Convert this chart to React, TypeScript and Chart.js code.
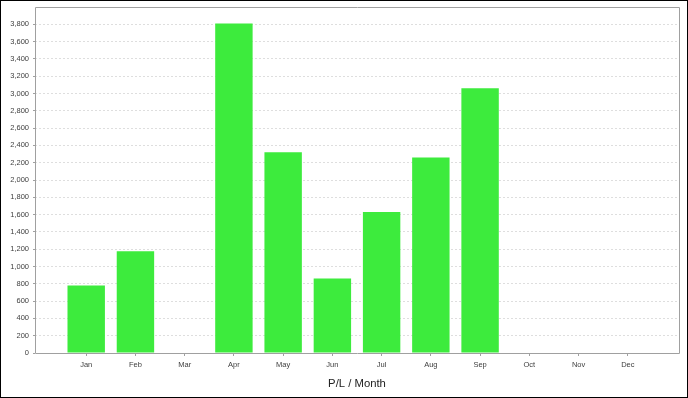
import React, { useEffect, useRef } from "react";
import Chart from "chart.js/auto";

const months = ["Jan", "Feb", "Mar", "Apr", "May", "Jun", "Jul", "Aug", "Sep", "Oct", "Nov", "Dec"];
const plValues = [780, 1175, 0, 3810, 2320, 860, 1630, 2260, 3060, 0, 0, 0];
const yMax = 4000;
const yStep = 200;
const axisTitle = "P/L / Month";

const frameColor = "#a0a0a0";
const fontFamily = "'Liberation Sans', Arial, sans-serif";

const plotFrame = {
  id: "plotFrame",
  afterDatasetsDraw(chart: any) {
    const { ctx, chartArea } = chart;
    const l = Math.round(chartArea.left) + 0.5;
    const t = Math.round(chartArea.top) + 0.5;
    const r = Math.round(chartArea.right) + 0.5;
    const b = Math.round(chartArea.bottom) + 0.5;
    ctx.save();
    ctx.strokeStyle = frameColor;
    ctx.lineWidth = 1;
    ctx.setLineDash([]);
    ctx.beginPath();
    ctx.moveTo(l, b);
    ctx.lineTo(l, t);
    ctx.lineTo(r, t);
    ctx.lineTo(r, b);
    ctx.lineTo(l, b);
    ctx.stroke();
    ctx.restore();
  },
};

export default function App() {
  const ref = useRef<HTMLCanvasElement>(null);
  useEffect(() => {
    if (!ref.current) return;
    const chart = new Chart(ref.current, {
      type: "bar",
      data: {
        datasets: [
          {
            data: plValues.map((v, i) => ({ x: i, y: v })),
            backgroundColor: "#3deb3d",
            borderWidth: 0,
            barPercentage: 0.76,
            categoryPercentage: 1,
          },
        ],
      },
      options: {
        animation: false,
        responsive: false,
        layout: { padding: { top: 6, right: 8, left: 0, bottom: 0 } },
        plugins: { legend: { display: false }, tooltip: { enabled: false } },
        scales: {
          x: {
            type: "linear",
            min: -1.04,
            max: 12.04,
            offset: false,
            afterBuildTicks: (scale: any) => {
              scale.ticks = months.map((_, i) => ({ value: i }));
            },
            afterFit: (scale: any) => {
              scale.height = 44;
              scale.paddingLeft = 0;
              scale.paddingRight = 0;
            },
            ticks: {
              autoSkip: false,
              maxRotation: 0,
              padding: 4,
              color: "#404040",
              font: { family: fontFamily, size: 7.5 },
              callback: (v: any) => months[v] ?? "",
            },
            grid: {
              display: true,
              offset: false,
              drawOnChartArea: false,
              drawTicks: true,
              tickLength: 3,
              tickColor: frameColor,
            },
            border: { display: false },
            title: {
              display: true,
              text: axisTitle,
              color: "#222",
              font: { family: fontFamily, size: 11.3 },
              padding: { top: 4, bottom: 6 },
            },
          },
          y: {
            min: 0,
            max: yMax,
            afterFit: (scale: any) => {
              scale.width = 34;
              scale.paddingTop = 0;
              scale.paddingBottom = 0;
            },
            ticks: {
              stepSize: yStep,
              padding: 4,
              color: "#404040",
              font: { family: fontFamily, size: 7.5 },
              callback: (v: any) => (v >= yMax ? "" : Number(v).toLocaleString("en-US")),
            },
            grid: {
              color: (c: any) =>
                c.tick && (c.tick.value >= yMax || c.tick.value <= 0) ? "transparent" : "#dedede",
              tickBorderDash: [],
              tickLength: 2,
              tickColor: (c: any) => (c.tick && c.tick.value >= yMax ? "transparent" : frameColor),
            },
            border: { display: false, dash: [2, 2] },
          },
        },
      },
      plugins: [plotFrame],
    });
    return () => chart.destroy();
  }, []);
  return (
    <div
      style={{
        position: "absolute",
        left: 0,
        top: 0,
        width: 688,
        height: 398,
        boxSizing: "border-box",
        border: "1px solid #000",
        background: "#fff",
      }}
    >
      <canvas ref={ref} width={686} height={396} style={{ display: "block" }} />
    </div>
  );
}
